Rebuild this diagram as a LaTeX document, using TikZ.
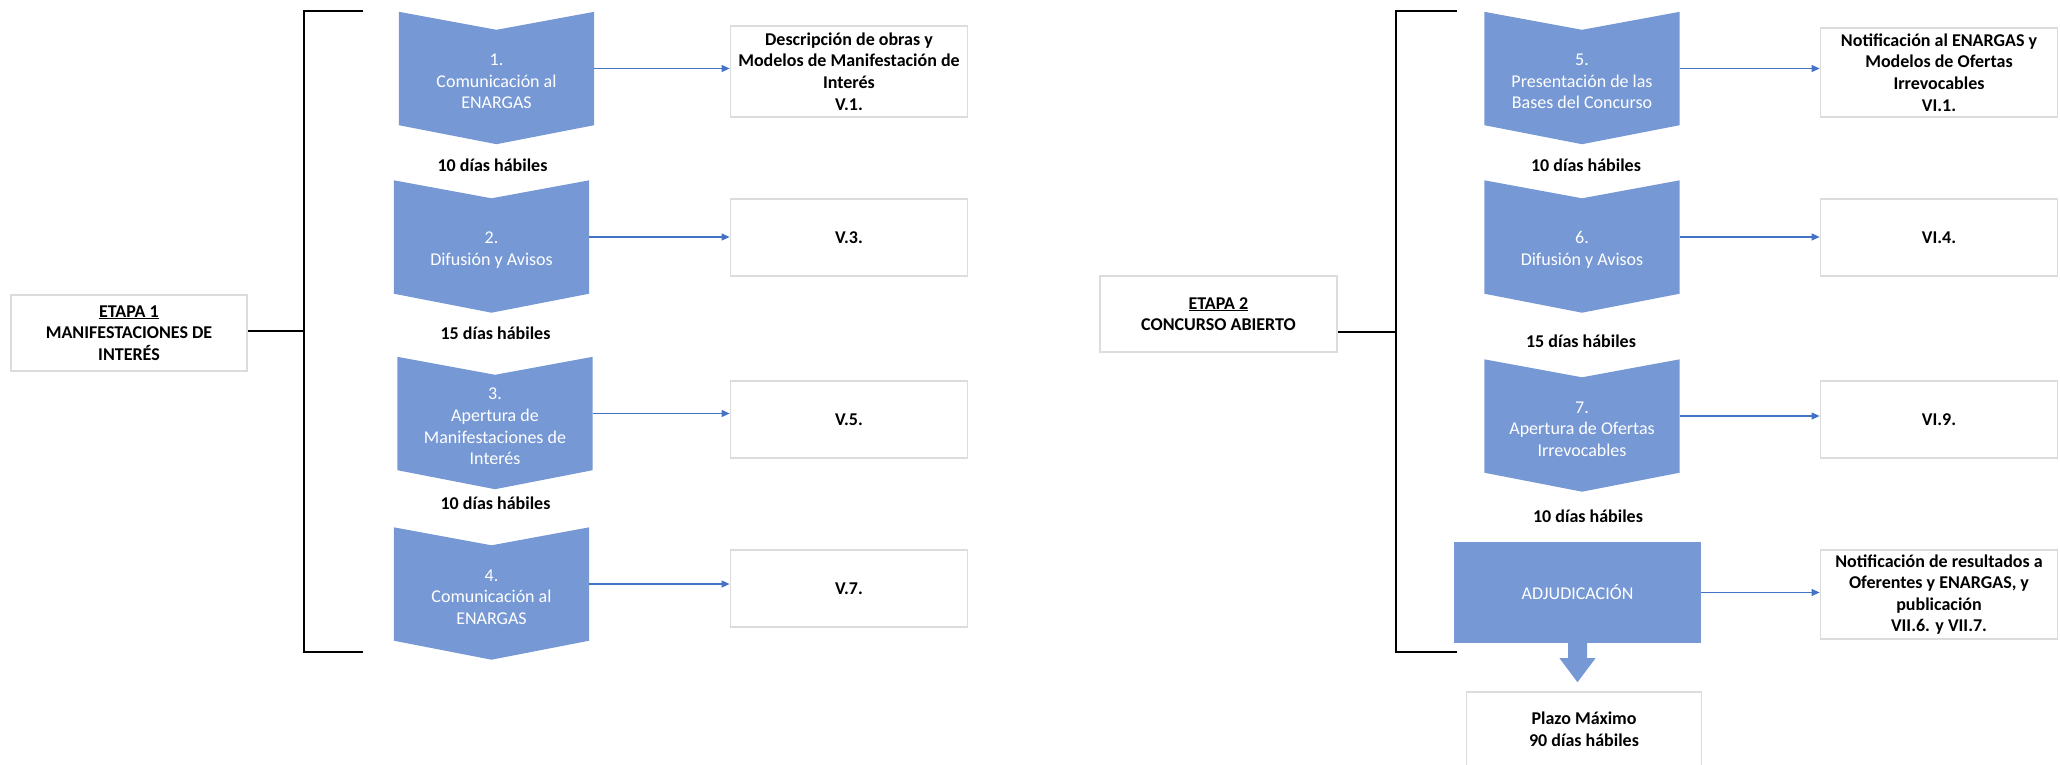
\documentclass[tikz,border=0pt]{standalone}
\usepackage{fontspec}
\setmainfont{Carlito}
\usepackage{tikz}
\usetikzlibrary{arrows.meta, positioning}
\definecolor{stepblue}{HTML}{7698D4}
\definecolor{linkblue}{HTML}{4472C4}
\definecolor{boxgray}{HTML}{DCDCDC}

\begin{document}
\begin{tikzpicture}[x=1pt, y=-1pt,
        every node/.style={font=\fontsize{18}{21.6}\selectfont, align=center, inner sep=0pt},
        stage/.style={draw=boxgray, line width=1.8pt, font=\fontsize{18}{21.6}\selectfont\bfseries},
        chev/.style={minimum width=195pt, minimum height=113pt},
        chevtext/.style={text=white},
        days/.style={font=\fontsize{18}{21.6}\selectfont\bfseries},
        link/.style={draw=linkblue, line width=1.1pt, -{Triangle[length=8pt, width=7pt]}},
        bracket/.style={draw=black, line width=2.5pt}]
        \useasboundingbox (0,0) rectangle (2060,765);

        % etapa 1
        \node[stage, minimum width=236pt, minimum height=76pt] (e1) at (129,333) {\underline{ETAPA 1}\\MANIFESTACIONES DE\\INTERÉS};
        \coordinate (k1) at (304,331);
        \draw[bracket] (363,11) -| (k1) |- (363,652);
        \draw[bracket] (k1) -- (k1 -| e1.east);

        % etapa 2
        \node[stage, minimum width=237pt, minimum height=76pt] (e2) at (1218.5,314) {\underline{ETAPA 2}\\CONCURSO ABIERTO};
        \coordinate (k2) at (1396,332);
        \draw[bracket] (1457,11) -| (k2) |- (1457,652);
        \draw[bracket] (k2) -- (k2 -| e2.east);

        \begin{scope}[every node/.append style={chev}]
            \node (c1) at (496.5,68.5) {};
            \node (c2) at (491.5,237) {};
            \node (c3) at (495,413.5) {};
            \node (c4) at (491.5,584) {};
            \node (c5) at (1582,68.5) {};
            \node (c6) at (1582,237) {};
            \node (c7) at (1582,416) {};
        \end{scope}
        \foreach \c in {c1,c2,c3,c4,c5,c6,c7}
            \fill[stepblue] (\c.north west) -- ([yshift=-18pt]\c.north) -- (\c.north east)
                -- (\c.south east) -- ([yshift=-19pt]\c.south) -- (\c.south west) -- cycle;

        \node[chevtext] (t1) at ([yshift=-13pt]c1.center) {1.\\Comunicación al\\ENARGAS};
        \node[chevtext] (t2) at ([yshift=-13pt]c2.center) {2.\\Difusión y Avisos};
        \node[chevtext] (t3) at ([yshift=-13pt]c3.center) {3.\\Apertura de\\Manifestaciones de\\Interés};
        \node[chevtext] (t4) at ([yshift=-13pt]c4.center) {4.\\Comunicación al\\ENARGAS};
        \node[chevtext] (t5) at ([yshift=-13pt]c5.center) {5.\\Presentación de las\\Bases del Concurso};
        \node[chevtext] (t6) at ([yshift=-13pt]c6.center) {6.\\Difusión y Avisos};
        \node[chevtext] (t7) at ([yshift=-13pt]c7.center) {7.\\Apertura de Ofertas\\Irrevocables};

        \node[days] (d1) at (492.5,165) {10 días hábiles};
        \node[days] (d2) at (495.5,333) {15 días hábiles};
        \node[days] (d3) at (495.5,503) {10 días hábiles};
        \node[days] (d5) at (1586,165) {10 días hábiles};
        \node[days] (d6) at (1581,341) {15 días hábiles};
        \node[days] (d7) at (1588,516) {10 días hábiles};

        \begin{scope}[every node/.append style={stage, minimum width=237pt, minimum height=77pt}]
            \node[minimum height=91pt] (r1) at (849,71.5) {Descripción de obras y\\Modelos de Manifestación de\\Interés\\V.1.};
            \node (r2) at (849,237.5) {V.3.};
            \node (r3) at (849,419.5) {V.5.};
            \node (r4) at (849,588.5) {V.7.};
            \node[minimum height=89pt] (s1) at (1939,72.5) {Notificación al ENARGAS y\\Modelos de Ofertas\\Irrevocables\\VI.1.};
            \node (s2) at (1939,237.5) {VI.4.};
            \node (s3) at (1939,419.5) {VI.9.};
            \node[minimum height=89pt] (s4) at (1939,594.5) {Notificación de resultados a\\Oferentes y ENARGAS, y\\publicación\\VII.6. y VII.7.};
            \node[minimum width=235pt, minimum height=75pt] (plazo) at (1584,729.5) {Plazo Máximo\\90 días hábiles};
        \end{scope}

        \node[fill=stepblue, text=white, minimum width=247pt, minimum height=101pt] (adj) at (1577.5,592.5) {ADJUDICACIÓN};
        \fill[stepblue] ([xshift=-9.5pt]adj.south) -- ++(0,15) -- ++(-8.5,0) -- ++(18,24)
            -- ++(18,-24) -- ++(-8.5,0) -- ++(0,-15) -- cycle;

        \draw[link] (c1.east) -- (c1.east -| r1.west);
        \draw[link] (c2.east) -- (c2.east -| r2.west);
        \draw[link] (c3.east) -- (c3.east -| r3.west);
        \draw[link] (c4.east) -- (c4.east -| r4.west);
        \draw[link] (c5.east) -- (c5.east -| s1.west);
        \draw[link] (c6.east) -- (c6.east -| s2.west);
        \draw[link] (c7.east) -- (c7.east -| s3.west);
        \draw[link] (adj.east) -- (adj.east -| s4.west);
    \end{tikzpicture}
\end{document}
